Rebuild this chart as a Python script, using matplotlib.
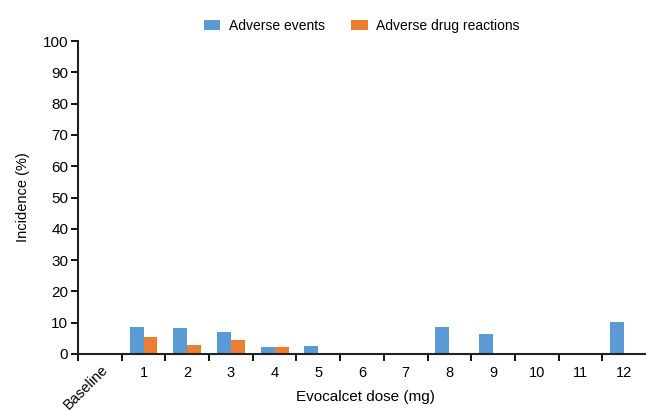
import numpy as np
import matplotlib.pyplot as plt

plt.rcParams["font.family"] = ["Liberation Sans", "DejaVu Sans"]

# Data
doses = ["Baseline", "1", "2", "3", "4", "5", "6", "7", "8", "9", "10", "11", "12"]
adverse_events = [0, 8.6, 8.3, 7.0, 2.2, 2.6, 0, 0, 8.6, 6.4, 0, 0, 10.2]
adverse_drug_reactions = [0, 5.4, 2.9, 4.5, 2.2, 0, 0, 0, 0, 0, 0, 0, 0]

blue = "#5B9BD5"
orange = "#ED7D31"

fig = plt.figure(figsize=(6.46, 4.11), dpi=100)
ax = fig.add_axes([0.1207, 0.1387, 0.8793, 0.7615])

x = np.arange(len(doses))
w = 0.32
ax.bar(x - w / 2, adverse_events, w, color=blue, label="Adverse events")
ax.bar(x + w / 2, adverse_drug_reactions, w, color=orange, label="Adverse drug reactions")

ax.set_xlim(-0.5, len(doses) - 0.5)
ax.set_ylim(0, 100)
ax.set_yticks(range(0, 101, 10))

# labels at centres, tick marks between categories
ax.set_xticks(x)
ax.set_xticklabels([""] + doses[1:], fontsize=10.5)
ax.tick_params(axis="x", which="major", length=0, pad=9)
ax.set_xticks(np.arange(-0.5, len(doses) - 1, 1.0), minor=True)
ax.tick_params(axis="x", which="minor", length=5, width=1.3, direction="out")
ax.tick_params(axis="y", length=5, width=1.3, labelsize=11, pad=2)

# rotated first category label
ax.annotate(doses[0], xy=(0, 0), xycoords=("data", "axes fraction"),
            xytext=(1, -8), textcoords="offset pixels", rotation=45,
            rotation_mode="anchor", ha="right", va="top", fontsize=10.5,
            annotation_clip=False)

for s in ["top", "right"]:
    ax.spines[s].set_visible(False)
for s in ["left", "bottom"]:
    ax.spines[s].set_linewidth(1.5)
    ax.spines[s].set_color("#222222")

ax.set_xlabel("Evocalcet dose (mg)", fontsize=11)
ax.xaxis.set_label_coords(0.506, -0.116)
ax.set_ylabel("Incidence (%)", fontsize=10.5, labelpad=9)

fig.legend(loc="upper center", bbox_to_anchor=(0.5596, 0.985), ncol=2, frameon=False,
           fontsize=10, handlelength=1.2, handleheight=0.8, handletextpad=0.6,
           columnspacing=1.9)

fig.savefig("out.png", dpi=100)
